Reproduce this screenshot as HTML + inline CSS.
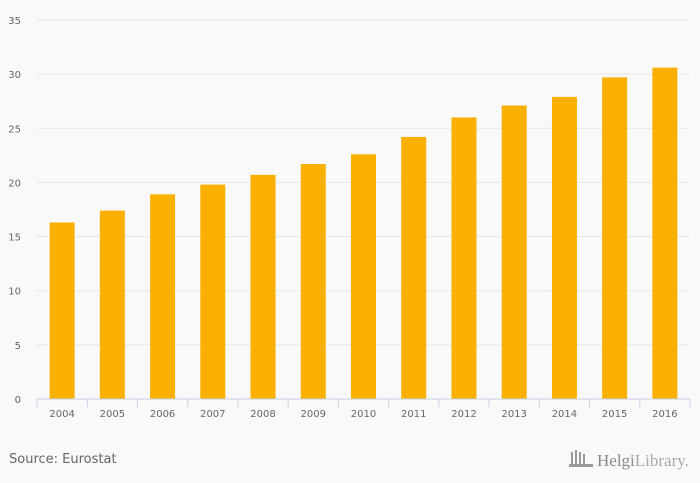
<!DOCTYPE html>
<html><head><meta charset="utf-8"><style>
html,body{margin:0;padding:0;background:#f9f9f9;}
svg{display:block;font-family:"DejaVu Sans","Liberation Sans",sans-serif;}
</style></head><body>
<svg id="chart" width="700" height="483">
<rect width="700" height="483" fill="#f9f9f9"/>
<g id="grid"></g><g id="bars"></g><g id="xaxis"></g>
<text x="9" y="463" font-size="13" fill="#666">Source: Eurostat</text>
<g fill="#999">
<rect x="571" y="452" width="2" height="12"/><rect x="575" y="450" width="2" height="14"/><rect x="579" y="452" width="2" height="12"/><rect x="583" y="454" width="2" height="10"/>
<rect x="569" y="464" width="24" height="3"/>
<text x="597" y="466" font-size="17" font-family="Liberation Serif,serif" fill="#888">Helgi<tspan fill="#aaa">Library.</tspan></text>
</g>
</svg>
<script>
const categories=["2004","2005","2006","2007","2008","2009","2010","2011","2012","2013","2014","2015","2016"];
const values=[16.3,17.4,18.9,19.8,20.7,21.7,22.6,24.2,26.0,27.1,27.9,29.7,30.6];
const yTicks=[0,5,10,15,20,25,30,35];
const NS="http://www.w3.org/2000/svg";
const x0=37,x1=690,y0=399,yTop=20,yMax=35;
const bw=(x1-x0)/categories.length;
const y=v=>y0-(v/yMax)*(y0-yTop);
const xc=i=>x0+bw*(i+0.5);
function mk(t,a,p){const e=document.createElementNS(NS,t);for(const k in a)e.setAttribute(k,a[k]);p.appendChild(e);return e;}
const grid=document.getElementById('grid'),bars=document.getElementById('bars'),xa=document.getElementById('xaxis');
yTicks.forEach(t=>{
 if(t>0){const l=mk('line',{x1:x0,x2:x1,y1:y(t),y2:y(t),stroke:'#e6e6e6','stroke-width':1},grid);
 
 }
 const tx=mk('text',{x:21,y:y(t)+4,'font-size':10,fill:'#666','text-anchor':'end'},grid);tx.textContent=t;
 
 
});
categories.forEach((c,i)=>{
 const r=mk('rect',{x:xc(i)-12.5,y:y(values[i]),width:25,height:y0-y(values[i]),fill:'#f9b000'},bars);
 
 
 const tx=mk('text',{x:xc(i),y:417,'font-size':10,fill:'#666','text-anchor':'middle'},xa);tx.textContent=c;
 
 
});
for(let i=0;i<=categories.length;i++){const x=x0+bw*i;mk('line',{x1:x,x2:x,y1:y0,y2:y0+8,stroke:'#c5d0e6'},xa);}
const ax=mk('line',{x1:x0,x2:x1,y1:y0,y2:y0,stroke:'#c5d0e6'},xa);


</script>
</body></html>
